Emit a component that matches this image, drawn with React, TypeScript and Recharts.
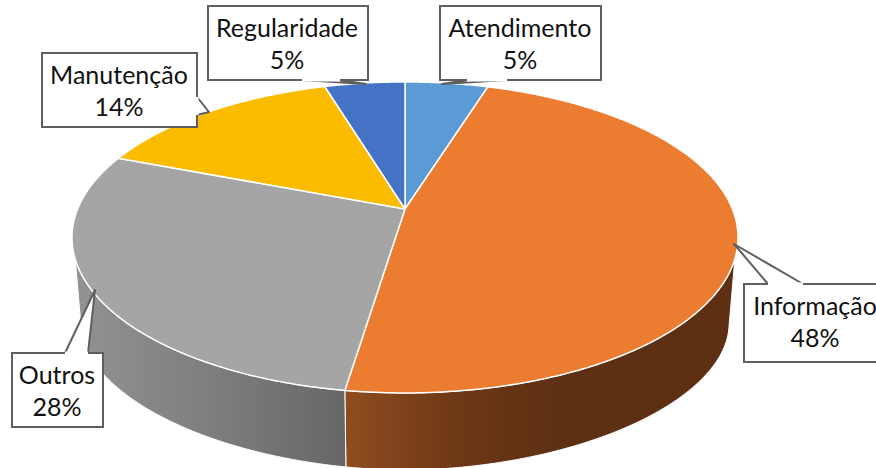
import { Pie, PieChart } from "recharts";

const categories = ["Atendimento", "Informação", "Outros", "Manutenção", "Regularidade"];
const shares = [4.8, 47.6, 28.45, 14.49, 4.65];
const sliceColors = ["#5B9BD5", "#EC7C30", "#A5A5A5", "#FBBC00", "#4472C4"];

const chartData = categories.map((name, i) => ({ name, value: shares[i], fill: sliceColors[i] }));

// pie apex and tilt: the disc is a circle seen in perspective, so it is not centred on the apex
const APEX_X = 405;
const APEX_Y = 209;
const RADIUS = 327.4;
const SQUASH = 150.3 / 327.4;
const TILT = 0.183;

// top rim is an ellipse, the bottom rim is a bit boxier than one
const TOP_RIM = { cy: 237.5, rx: 333, ry: 155.5 };
const LOW_RIM = { cy: 325, rx: 324, ry: 145, power: 1.9 };
const WALL_START = 0.132;

const wallStops: Record<string, [string, string, string]> = {
  Outros: ["#929292", "#7c7c7c", "#666666"],
  "Informação": ["#8f4c1f", "#6c3716", "#5e3013"],
};

// box = x, y, w, h; pointer = base, tip, base
const callouts = [
  { box: [440, 6, 161, 74], pointer: [[507, 80], [442, 84], [467, 80]], textX: 520 },
  { box: [744, 284, 142, 78], pointer: [[768, 284], [734, 244], [803, 284]], textX: 815 },
  { box: [12, 353, 91, 74], pointer: [[65, 353], [95, 290], [88, 353]], textX: 57 },
  { box: [42, 53, 155, 74], pointer: [[197, 97], [209, 112], [197, 115]], textX: 119 },
  { box: [208, 6, 160, 74], pointer: [[302, 80], [366, 84], [340, 80]], textX: 287 },
];

function rimPoint(angle: number) {
  const rad = (angle * Math.PI) / 180;
  const u = Math.cos(rad);
  const v = Math.sin(rad);
  const d = 1 + TILT * v;
  return { x: APEX_X + (RADIUS * u) / d, y: APEX_Y - (RADIUS * SQUASH * v) / d };
}

function lowPoint(p: { x: number; y: number }) {
  const c = (p.x - APEX_X) / TOP_RIM.rx;
  const t = Math.max(-1, Math.min(1, c / Math.sqrt(1 - WALL_START * WALL_START)));
  const { cy, rx, ry, power } = LOW_RIM;
  return { x: APEX_X + rx * t, y: cy + ry * Math.pow(1 - Math.pow(Math.abs(t), power), 1 / power) };
}

function pointPath(points: { x: number; y: number }[]) {
  return points.map((p, i) => `${i === 0 ? "M" : "L"}${p.x.toFixed(2)},${p.y.toFixed(2)}`).join(" ");
}

function DiscSlice(props: any) {
  const { startAngle, endAngle, fill, name } = props;
  const steps = Math.max(2, Math.ceil(Math.abs(endAngle - startAngle) * 2));
  const rim = [];
  for (let i = 0; i <= steps; i++) {
    rim.push(rimPoint(startAngle + ((endAngle - startAngle) * i) / steps));
  }
  const top = `${pointPath([{ x: APEX_X, y: APEX_Y }, ...rim])} Z`;
  const seen = rim.filter((p) => (p.y - TOP_RIM.cy) / TOP_RIM.ry >= WALL_START);
  const stops = wallStops[name];
  const gradId = `wall-${props.index ?? categories.indexOf(name)}`;
  return (
    <g>
      {seen.length > 1 && stops && (
        <>
          <defs>
            <linearGradient id={gradId} gradientUnits="userSpaceOnUse" x1={Math.min(...seen.map((p) => p.x))} y1={0} x2={name === "Outros" ? 347 : 560} y2={0}>
              <stop offset="0%" stopColor={stops[0]} />
              <stop offset="55%" stopColor={stops[1]} />
              <stop offset="100%" stopColor={stops[2]} />
            </linearGradient>
          </defs>
          <path d={`${pointPath([...seen, ...seen.map(lowPoint).reverse()])} Z`} fill={`url(#${gradId})`} stroke="#fff" strokeWidth={1} />
        </>
      )}
      <path d={top} fill={fill} stroke="#fff" strokeWidth={1.5} strokeLinejoin="round" />
    </g>
  );
}

function CalloutLabel(props: any) {
  const { index, name, percent } = props;
  const c = callouts[index];
  const [x, y, w, h] = c.box;
  const [a, tip, b] = c.pointer;
  return (
    <g>
      <path
        d={`M${x},${y} H${x + w} V${y + h} H${x} Z`}
        fill="#fff"
        stroke="#5f5f5f"
        strokeWidth={2}
      />
      <path d={`M${a[0]},${a[1]} L${tip[0]},${tip[1]} L${b[0]},${b[1]} Z`} fill="#fff" stroke="#5f5f5f" strokeWidth={2} strokeLinejoin="round" />
      <path d={`M${a[0]},${a[1]} L${b[0]},${b[1]}`} stroke="#fff" strokeWidth={3} />
      <text x={c.textX} textAnchor="middle" fontFamily="Lato, 'Open Sans', sans-serif" fontSize={25} fill="#111">
        <tspan x={c.textX} y={y + 31}>{name}</tspan>
        <tspan x={c.textX} y={y + 63}>{`${Math.round(percent * 100)}%`}</tspan>
      </text>
    </g>
  );
}

export default function App() {
  return (
    <div style={{ position: "absolute", left: 0, top: 0, width: 876, height: 468, overflow: "hidden", background: "#fff" }}>
      <PieChart width={876} height={468} margin={{ top: 0, right: 0, bottom: 0, left: 0 }}>
        <Pie
          data={chartData}
          dataKey="value"
          nameKey="name"
          cx={APEX_X}
          cy={APEX_Y}
          outerRadius={RADIUS}
          startAngle={90}
          endAngle={-270}
          stroke="#fff"
          shape={DiscSlice}
          label={CalloutLabel}
          labelLine={false}
          isAnimationActive={false}
        />
      </PieChart>
    </div>
  );
}
